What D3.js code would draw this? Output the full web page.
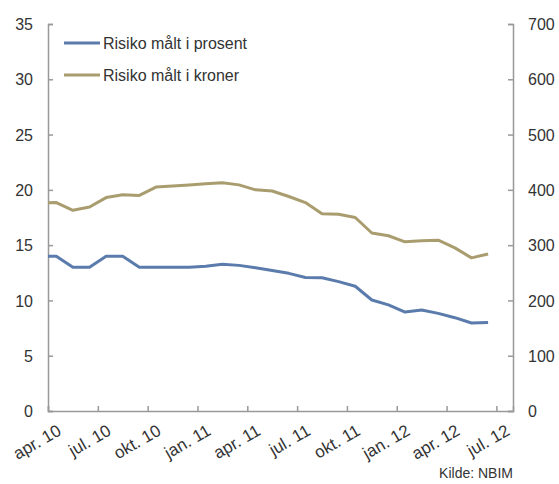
<!DOCTYPE html>
<html>
<head>
<meta charset="utf-8">
<script src="https://cdn.jsdelivr.net/npm/d3@7"></script>
<style>
  body { margin: 0; background: #fff; }
  text { font-family: "Liberation Sans", Arial, sans-serif; fill: #333; }
</style>
</head>
<body>
<div id="chart"></div>
<script>
const width = 559;
const height = 484;

// monthly observations, mar. 10 - jun. 12
const months = d3.timeMonth.range(new Date(2010, 2, 1), new Date(2012, 6, 1));
const prosent = [14, 14, 13, 13, 14, 14, 13, 13, 13, 13, 13.1, 13.27, 13.17, 12.95,
    12.7, 12.45, 12.08, 12.05, 11.7, 11.28, 10.04, 9.6, 8.95, 9.13, 8.83, 8.44, 7.96, 8.0];
const kroner = [376, 377, 363, 369, 386, 391, 390, 405, 407, 409, 411, 413, 409, 400,
    398, 388, 377, 357, 356, 350, 322, 317, 306, 308, 309, 295, 277, 284];
const tickLabels = ["apr. 10", "jul. 10", "okt. 10", "jan. 11", "apr. 11", "jul. 11",
    "okt. 11", "jan. 12", "apr. 12", "jul. 12"];
const seriesNames = ["Risiko målt i prosent", "Risiko målt i kroner"];
const colors = ["#5a7bab", "#a99d6f"];

const margin = {top: 24, right: 46, bottom: 73, left: 48};
const start = new Date(2010, 3, 1);
const monthIndex = d => d3.timeMonth.count(start, d);

const x = d3.scaleLinear().domain([0, 28]).range([margin.left, width - margin.right]);
const yL = d3.scaleLinear().domain([0, 35]).range([height - margin.bottom, margin.top]);
const yR = d3.scaleLinear().domain([0, 700]).range([height - margin.bottom, margin.top]);

const svg = d3.select("#chart").append("svg")
    .attr("width", width)
    .attr("height", height);

svg.append("defs").append("clipPath")
    .attr("id", "plot")
    .append("rect")
    .attr("x", x(0)).attr("y", 0)
    .attr("width", x(28) - x(0)).attr("height", height);

// axes
const axisColor = "#999";
const left = svg.append("g")
    .attr("transform", `translate(${x(0)},0)`)
    .call(d3.axisRight(yL).tickValues(d3.range(0, 36, 5)).tickSize(5).tickFormat(""));
left.selectAll(".tick")
    .append("text")
    .attr("x", -15).attr("dy", "0.35em")
    .attr("text-anchor", "end")
    .style("font-size", "16px")
    .text(d => d);

const right = svg.append("g")
    .attr("transform", `translate(${x(28)},0)`)
    .call(d3.axisLeft(yR).tickValues(d3.range(0, 701, 100)).tickSize(5).tickFormat(""));
right.selectAll(".tick")
    .append("text")
    .attr("x", 15).attr("dy", "0.35em")
    .attr("text-anchor", "start")
    .style("font-size", "16px")
    .text(d => d);

const bottom = svg.append("g")
    .attr("transform", `translate(0,${yL(0)})`)
    .call(d3.axisTop(x).tickValues(d3.range(0, 28, 3)).tickSize(5).tickFormat(""));
bottom.selectAll(".tick")
    .append("text")
    .attr("text-anchor", "end")
    .attr("transform", "translate(14,23) rotate(-30)")
    .style("font-size", "17px")
    .text((d, i) => tickLabels[i]);

svg.selectAll(".domain, .tick line")
    .attr("stroke", axisColor)
    .attr("stroke-width", 1.5);

// lines
const series = [prosent.map((v, i) => [months[i], yL(v)]),
    kroner.map((v, i) => [months[i], yR(v)])];
const line = d3.line()
    .x(d => x(monthIndex(d[0]) + 0.5))
    .y(d => d[1]);

svg.append("g")
    .attr("clip-path", "url(#plot)")
    .selectAll("path")
    .data(series)
    .join("path")
    .attr("fill", "none")
    .attr("stroke", (d, i) => colors[i])
    .attr("stroke-width", 3)
    .attr("stroke-linejoin", "round")
    .attr("d", line);

// legend
const legend = svg.append("g")
    .selectAll("g")
    .data(seriesNames)
    .join("g")
    .attr("transform", (d, i) => `translate(64,${43 + i * 32})`);
legend.append("line")
    .attr("x1", 0).attr("x2", 36)
    .attr("stroke", (d, i) => colors[i])
    .attr("stroke-width", 3);
legend.append("text")
    .attr("x", 39).attr("dy", "0.35em")
    .style("font-size", "16px")
    .text(d => d);

svg.append("text")
    .attr("x", x(28)).attr("y", 478)
    .attr("text-anchor", "end")
    .style("font-size", "14px")
    .text("Kilde: NBIM");
</script>
</body>
</html>
